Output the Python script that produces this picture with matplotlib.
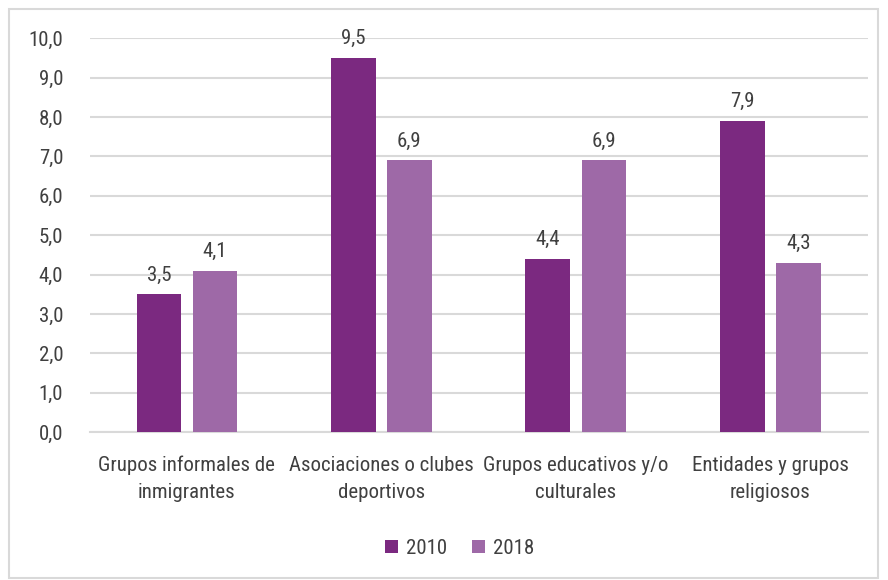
import matplotlib
matplotlib.use("Agg")
import matplotlib.pyplot as plt
import numpy as np
from matplotlib.patches import Rectangle

plt.rcParams['font.family'] = ['Roboto Condensed', 'DejaVu Sans']

categories = ["Grupos informales de\ninmigrantes", "Asociaciones o clubes\ndeportivos",
              "Grupos educativos y/o\nculturales", "Entidades y grupos\nreligiosos"]
series_names = ["2010", "2018"]
values_2010 = [3.5, 9.5, 4.4, 7.9]
values_2018 = [4.1, 6.9, 6.9, 4.3]
yticks = [0, 1, 2, 3, 4, 5, 6, 7, 8, 9, 10]

c1, c2 = "#7B2980", "#9E69A7"
txt = "#404040"
fs = 15

fig = plt.figure(figsize=(8.88, 5.8), dpi=100)
fig.patches.append(Rectangle((9/888, 1-578/580), 878/888-9/888, (578-9)/580,
                             transform=fig.transFigure, fill=False, edgecolor="#D9D9D9", linewidth=1.5))
ax = fig.add_axes([0.101, 0.255, 0.876, 0.679])

x = np.arange(len(categories))
w = 0.23
off = 0.144
b1 = ax.bar(x - off, values_2010, w, color=c1, label=series_names[0], zorder=3)
b2 = ax.bar(x + off, values_2018, w, color=c2, label=series_names[1], zorder=3)
for bars, vals in ((b1, values_2010), (b2, values_2018)):
    for r, v in zip(bars, vals):
        ax.text(r.get_x() + r.get_width()/2, v + 0.25, f"{v:.1f}".replace(".", ","),
                ha="center", va="bottom", fontsize=fs, color=txt)

ax.set_xlim(-0.5, 3.5)
ax.set_ylim(0, 10)
ax.set_yticks(yticks)
ax.set_yticklabels([f"{t:.1f}".replace(".", ",") for t in yticks], fontsize=fs, color=txt)
ax.set_xticks(x)
ax.set_xticklabels(categories, fontsize=fs, color=txt, linespacing=1.55)
ax.tick_params(axis="both", length=0)
ax.tick_params(axis="y", pad=19)
ax.tick_params(axis="x", pad=17)
ax.grid(axis="y", color="#D9D9D9", linewidth=1.5, zorder=0)
for s in ["top", "right", "left"]:
    ax.spines[s].set_visible(False)
ax.spines["bottom"].set_color("#D9D9D9")
ax.spines["bottom"].set_linewidth(1.5)

leg = fig.legend(handles=[b1, b2], labels=series_names, loc="center", bbox_to_anchor=(0.518, 1-548/580),
                 ncol=2, frameon=False, fontsize=fs, handlelength=0.6, handleheight=0.6,
                 handletextpad=0.4, columnspacing=1.2)
for t in leg.get_texts():
    t.set_color(txt)

fig.savefig("out.png", dpi=100)
